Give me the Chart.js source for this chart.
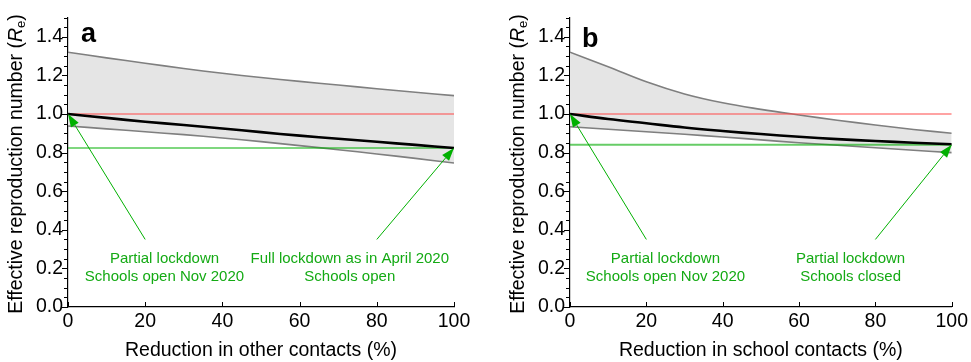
<!DOCTYPE html>
<html>
<head>
<meta charset="utf-8">
<script src="https://cdn.jsdelivr.net/npm/chart.js@4/dist/chart.umd.min.js"></script>
<style>
    body { margin: 0; background: #fff; }
    #wrap { position: relative; width: 971px; height: 362px; }
    canvas { position: absolute; top: 0; }
    #chartA { left: 0; }
    #chartB { left: 502px; }
</style>
</head>
<body>
<div id="wrap">
    <canvas id="chartA" width="502" height="362"></canvas>
    <canvas id="chartB" width="469" height="362"></canvas>
</div>
<script>
// x values (% reduction) shared by both panels
const xs = [0, 10, 20, 30, 40, 50, 60, 70, 80, 90, 100];

// panel a: reduction in other contacts
const aUpper = [1.32, 1.291, 1.263, 1.236, 1.211, 1.189, 1.169, 1.150, 1.131, 1.113, 1.095];
const aLower = [0.938, 0.923, 0.908, 0.893, 0.876, 0.857, 0.836, 0.815, 0.793, 0.77, 0.746];
const aMid = [1.0, 0.98, 0.96, 0.943, 0.925, 0.906, 0.888, 0.872, 0.856, 0.84, 0.824];
const aTarget = 0.824;

// panel b: reduction in school contacts
const bUpper = [1.32, 1.245, 1.167, 1.104, 1.058, 1.024, 0.995, 0.968, 0.943, 0.92, 0.9];
const bLower = [0.934, 0.921, 0.908, 0.895, 0.881, 0.866, 0.851, 0.838, 0.825, 0.812, 0.80];
const bMid = [1.0, 0.974, 0.952, 0.93, 0.912, 0.896, 0.882, 0.870, 0.86, 0.851, 0.843];
const bTarget = 0.841;

const threshold = 1.0;
const xTicks = [0, 20, 40, 60, 80, 100];
const yTickLabels = ['0.0', '0.2', '0.4', '0.6', '0.8', '1.0', '1.2', '1.4'];

const FONT = '"Liberation Sans", Arial, sans-serif';
const GREEN = '#14aa14';

function pts(values) {
    return values.map((v, i) => ({ x: xs[i], y: v }));
}

function isMajor(v) {
    return Math.abs(v * 5 - Math.round(v * 5)) < 1e-6;
}

// tick marks: y outward with minor ticks, x inward
const tickMarks = {
    id: 'tickMarks',
    afterDraw(chart) {
        const { ctx, chartArea, scales: { x, y } } = chart;
        ctx.save();
        ctx.strokeStyle = '#000';
        ctx.lineWidth = 1;
        ctx.beginPath();
        y.ticks.forEach(t => {
            const py = Math.round(y.getPixelForValue(t.value)) + 0.5;
            const len = isMajor(t.value) ? 6 : 4;
            ctx.moveTo(chartArea.left - len, py);
            ctx.lineTo(chartArea.left, py);
        });
        x.ticks.forEach(t => {
            const px = Math.round(x.getPixelForValue(t.value)) + 0.5;
            ctx.moveTo(px, chartArea.bottom);
            ctx.lineTo(px, chartArea.bottom - 5);
        });
        ctx.stroke();
        ctx.restore();
    }
};

function drawArrow(ctx, x1, y1, x2, y2) {
    const ang = Math.atan2(y2 - y1, x2 - x1);
    const headLen = 13, headW = 4.5;
    const bx = x2 - headLen * Math.cos(ang);
    const by = y2 - headLen * Math.sin(ang);
    ctx.beginPath();
    ctx.moveTo(x1, y1);
    ctx.lineTo(bx, by);
    ctx.stroke();
    ctx.beginPath();
    ctx.moveTo(x2, y2);
    ctx.lineTo(bx + headW * Math.sin(ang), by - headW * Math.cos(ang));
    ctx.lineTo(bx - headW * Math.sin(ang), by + headW * Math.cos(ang));
    ctx.closePath();
    ctx.fill();
}

const notesPlugin = {
    id: 'notes',
    afterDraw(chart, args, opts) {
        const { ctx, chartArea, scales: { x, y } } = chart;
        ctx.save();

        // arrows and green captions
        ctx.strokeStyle = '#00b000';
        ctx.fillStyle = '#00b000';
        ctx.lineWidth = 1;
        opts.notes.forEach(n => {
            drawArrow(ctx, x.getPixelForValue(n.from[0]), y.getPixelForValue(n.from[1]),
                x.getPixelForValue(n.to[0]), y.getPixelForValue(n.to[1]));
        });
        ctx.fillStyle = GREEN;
        ctx.font = '15px ' + FONT;
        ctx.textAlign = 'center';
        ctx.textBaseline = 'middle';
        opts.notes.forEach(n => {
            n.text.forEach((line, i) => {
                ctx.fillText(line, x.getPixelForValue(n.x), y.getPixelForValue(n.lineY[i]));
            });
        });

        // panel letter
        ctx.fillStyle = '#000';
        ctx.font = 'bold 27px ' + FONT;
        ctx.textAlign = 'left';
        ctx.textBaseline = 'alphabetic';
        ctx.fillText(opts.panel, chartArea.left + opts.panelDx, opts.panelY);

        // y title with italic R and subscript e
        const parts = [
            { t: 'Effective reproduction number (', f: '19.5px ' + FONT, dy: 0 },
            { t: 'R', f: 'italic 19.5px ' + FONT, dy: 0 },
            { t: 'e', f: '13px ' + FONT, dy: 4 },
            { t: ')', f: '19.5px ' + FONT, dy: 0 }
        ];
        let total = 0;
        parts.forEach(p => { ctx.font = p.f; p.w = ctx.measureText(p.t).width; total += p.w; });
        ctx.translate(17, 164);
        ctx.rotate(-Math.PI / 2);
        ctx.textBaseline = 'middle';
        let cx = -total / 2;
        parts.forEach(p => {
            ctx.font = p.f;
            ctx.fillText(p.t, cx, p.dy);
            cx += p.w;
        });
        ctx.restore();
    }
};

function makeChart(id, cfg) {
    const ctx = document.getElementById(id).getContext('2d');
    return new Chart(ctx, {
        type: 'line',
        data: {
            datasets: [{
                data: pts(cfg.upper),
                borderColor: '#7f7f7f',
                borderWidth: 1.6,
                backgroundColor: '#e5e5e5',
                fill: '+1',
                order: 5
            }, {
                data: pts(cfg.lower),
                borderColor: '#7f7f7f',
                borderWidth: 1.6,
                fill: false,
                order: 4
            }, {
                data: [{ x: 0, y: threshold }, { x: 100, y: threshold }],
                borderColor: '#ff4848',
                borderWidth: 1.2,
                fill: false,
                order: 3
            }, {
                data: [{ x: 0, y: cfg.target }, { x: 100, y: cfg.target }],
                borderColor: cfg.targetColor,
                borderWidth: cfg.targetWidth,
                fill: false,
                order: 2
            }, {
                data: pts(cfg.mid),
                borderColor: '#000',
                borderWidth: 2.6,
                fill: false,
                order: 1
            }]
        },
        options: {
            responsive: false,
            animation: false,
            events: [],
            elements: {
                point: { radius: 0 },
                line: { tension: 0.4 }
            },
            layout: { padding: { left: 0, right: cfg.padRight, top: 17.5, bottom: 0 } },
            plugins: {
                legend: { display: false },
                tooltip: { enabled: false },
                notes: { notes: cfg.notes, panel: cfg.panel, panelDx: cfg.panelDx, panelY: cfg.panelY }
            },
            scales: {
                x: {
                    type: 'linear',
                    min: 0,
                    max: 100,
                    afterBuildTicks: s => { s.ticks = xTicks.map(v => ({ value: v })); },
                    afterFit: s => { s.height = 55; },
                    grid: { display: false, drawTicks: false },
                    border: { display: true, color: '#000', width: 1.2 },
                    ticks: {
                        color: '#000',
                        padding: 3,
                        font: { family: FONT, size: 19.5 }
                    },
                    title: {
                        display: true,
                        text: cfg.xTitle,
                        color: '#000',
                        padding: { top: 0, bottom: 0 },
                        font: { family: FONT, size: 19.5 }
                    }
                },
                y: {
                    min: 0,
                    max: 1.5,
                    afterFit: s => { s.width = 68; },
                    grid: { display: false, drawTicks: false },
                    border: { display: true, color: '#000', width: 1.2 },
                    ticks: {
                        stepSize: 0.05,
                        autoSkip: false,
                        color: '#000',
                        padding: 5,
                        font: { family: FONT, size: 19.5 },
                        callback: v => isMajor(v) && v < 1.45 ? yTickLabels[Math.round(v * 5)] : ''
                    }
                }
            }
        },
        plugins: [tickMarks, notesPlugin]
    });
}

makeChart('chartA', {
    upper: aUpper, lower: aLower, mid: aMid,
    target: aTarget, targetColor: '#00b000', targetWidth: 1.1,
    xTitle: 'Reduction in other contacts (%)',
    padRight: 48, panel: 'a', panelDx: 13, panelY: 42,
    notes: [
        { text: ['Partial lockdown', 'Schools open Nov 2020'], x: 25, lineY: [0.249, 0.155], from: [20, 0.35], to: [0, aMid[0]] },
        { text: ['Full lockdown as in April 2020', 'Schools open'], x: 73, lineY: [0.249, 0.155], from: [80, 0.35], to: [100, aTarget] }
    ]
});

makeChart('chartB', {
    upper: bUpper, lower: bLower, mid: bMid,
    target: bTarget, targetColor: 'rgba(0,170,0,0.6)', targetWidth: 2,
    xTitle: 'Reduction in school contacts (%)',
    padRight: 16, panel: 'b', panelDx: 12, panelY: 47,
    notes: [
        { text: ['Partial lockdown', 'Schools open Nov 2020'], x: 25, lineY: [0.249, 0.155], from: [20, 0.35], to: [0, bMid[0]] },
        { text: ['Partial lockdown', 'Schools closed'], x: 73.5, lineY: [0.249, 0.155], from: [80, 0.35], to: [100, bTarget] }
    ]
});
</script>
</body>
</html>
